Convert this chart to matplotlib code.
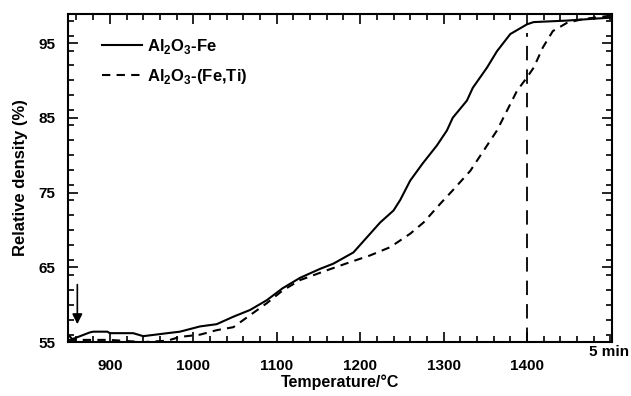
import matplotlib
matplotlib.use("Agg")
import matplotlib.pyplot as plt
from matplotlib.ticker import MultipleLocator

plt.rcParams['font.family'] = ['Liberation Sans', 'DejaVu Sans']
plt.rcParams['font.weight'] = 'bold'
plt.rcParams['mathtext.fontset'] = 'custom'
plt.rcParams['mathtext.rm'] = 'Liberation Sans:bold'
plt.rcParams['mathtext.bf'] = 'Liberation Sans:bold'

# Al2O3-Fe (solid)
fe_T = [850, 855, 876, 880, 897, 900, 928, 940, 969, 984, 1008, 1028, 1048, 1068,
        1088, 1107, 1128, 1152, 1168, 1192, 1212, 1224, 1240, 1248, 1260, 1275,
        1292, 1304, 1311, 1328, 1335, 1352, 1364, 1380, 1400, 1408, 1448, 1487, 1502]
fe_rho = [56.0, 55.4, 56.3, 56.4, 56.4, 56.2, 56.2, 55.8, 56.2, 56.4, 57.1, 57.4, 58.4, 59.3,
          60.6, 62.2, 63.6, 64.8, 65.5, 67.0, 69.5, 71.0, 72.6, 74.0, 76.6, 78.9,
          81.3, 83.3, 85.0, 87.3, 89.0, 91.7, 93.9, 96.2, 97.5, 97.8, 98.0, 98.3, 98.4]

# Al2O3-(Fe,Ti) (dashed)
feti_T = [850, 880, 900, 940, 969, 984, 1008, 1028, 1048, 1068, 1088, 1107, 1128,
          1160, 1188, 1212, 1236, 1260, 1276, 1296, 1311, 1332, 1348, 1364, 1388,
          1400, 1408, 1419, 1431, 1448, 1467, 1496, 1502]
feti_rho = [55.3, 55.3, 55.3, 55.0, 55.2, 55.7, 56.0, 56.6, 57.0, 58.6, 60.2, 61.9, 63.3,
            64.6, 65.7, 66.6, 67.7, 69.5, 71.0, 73.5, 75.3, 77.9, 80.6, 83.3, 88.6,
            90.4, 91.7, 94.4, 96.6, 97.7, 98.2, 98.6, 98.7]

marker_T = 1400
arrow_T = 861

fig = plt.figure(figsize=(6.31, 3.96), dpi=100)
ax = fig.add_axes([0.108, 0.136, 0.862, 0.829])

ax.plot(fe_T, fe_rho, color='black', lw=1.5, label=r'Al$_\mathbf{2}$O$_\mathbf{3}$-Fe')
ax.plot(feti_T, feti_rho, color='black', lw=1.5, dashes=(4, 3),
        label=r'Al$_\mathbf{2}$O$_\mathbf{3}$-(Fe,Ti)')
ax.plot([marker_T, marker_T], [55, 96.3], color='black', lw=1.3, dashes=(8, 5))

ax.annotate('', xy=(arrow_T, 57.4), xytext=(arrow_T, 62.7),
            arrowprops=dict(arrowstyle='-|>', color='black', lw=1.2,
                            mutation_scale=15, shrinkA=0, shrinkB=0))

ax.set_xlim(850, 1502)
ax.set_ylim(55, 98.9)
ax.set_xticks([900, 1000, 1100, 1200, 1300, 1400])
ax.set_yticks([55, 65, 75, 85, 95])
ax.xaxis.set_minor_locator(MultipleLocator(20))
ax.yaxis.set_minor_locator(MultipleLocator(2))
ax.tick_params(which='both', direction='in', top=True, right=True, labelsize=11,
               width=1.2)
ax.tick_params(axis='x', which='major', pad=12)
ax.tick_params(axis='y', which='major', pad=9)
ax.tick_params(which='major', length=7)
ax.tick_params(which='minor', length=4)
for s in ax.spines.values():
    s.set_linewidth(1.5)

ax.set_xlabel('Temperature/°C', fontsize=11.5, fontweight='bold', labelpad=1)
ax.set_ylabel('Relative density (%)', fontsize=12, fontweight='bold', labelpad=8)
ax.text(0.995, -0.008, '5 min', transform=ax.transAxes, ha='center', va='top',
        fontsize=11, fontweight='bold')

leg = ax.legend(loc='upper left', bbox_to_anchor=(0.035, 0.975), frameon=False,
                handlelength=2.4, fontsize=12, labelspacing=0.65, handletextpad=0.3)

fig.savefig('out.png', dpi=100)
